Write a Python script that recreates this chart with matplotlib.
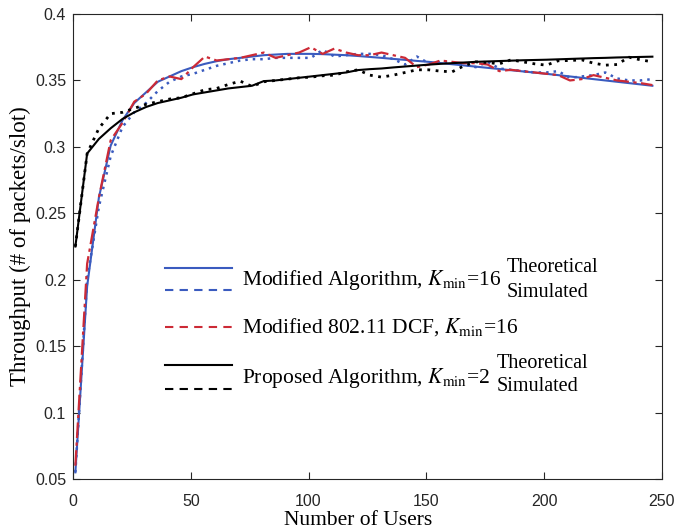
import matplotlib
matplotlib.use("Agg")
import matplotlib.pyplot as plt
from matplotlib.lines import Line2D
from matplotlib.ticker import FuncFormatter

users = [1, 6, 11, 16, 21, 26, 31, 36, 41, 46, 51, 56, 61, 66, 71, 76, 81, 86, 91, 96,
         101, 106, 111, 116, 121, 126, 131, 136, 141, 146, 151, 156, 161, 166, 171, 176,
         181, 186, 191, 196, 201, 206, 211, 216, 221, 226, 231, 236, 241, 246]

mod_theory = [0.055, 0.195, 0.262, 0.301, 0.320, 0.333, 0.341, 0.349, 0.353, 0.357,
              0.360, 0.3625, 0.3645, 0.366, 0.367, 0.368, 0.369, 0.3695, 0.370, 0.370,
              0.370, 0.3698, 0.3694, 0.369, 0.3684, 0.3677, 0.367, 0.3662, 0.3655, 0.3647,
              0.364, 0.3631, 0.3622, 0.3613, 0.3604, 0.3595, 0.3586, 0.3577, 0.3568, 0.3559,
              0.355, 0.354, 0.353, 0.352, 0.351, 0.350, 0.349, 0.348, 0.347, 0.346]

mod_sim = [0.055, 0.200, 0.255, 0.293, 0.315, 0.326, 0.333, 0.342, 0.349, 0.353,
           0.355, 0.358, 0.361, 0.363, 0.365, 0.366, 0.366, 0.367, 0.367, 0.367,
           0.367, 0.373, 0.368, 0.369, 0.370, 0.370, 0.369, 0.366, 0.362, 0.368,
           0.363, 0.364, 0.363, 0.362, 0.360, 0.364, 0.359, 0.358, 0.357, 0.356,
           0.356, 0.357, 0.352, 0.353, 0.354, 0.356, 0.3515, 0.350, 0.350, 0.351]

dcf_sim = [0.060, 0.212, 0.262, 0.305, 0.318, 0.334, 0.340, 0.350, 0.353, 0.351,
           0.360, 0.368, 0.365, 0.366, 0.367, 0.369, 0.371, 0.367, 0.369, 0.371,
           0.375, 0.370, 0.374, 0.371, 0.369, 0.369, 0.371, 0.369, 0.367, 0.360,
           0.362, 0.365, 0.364, 0.363, 0.363, 0.362, 0.357, 0.358, 0.357, 0.356,
           0.355, 0.354, 0.350, 0.351, 0.354, 0.352, 0.350, 0.349, 0.348, 0.3465]

prop_theory = [0.225, 0.295, 0.306, 0.314, 0.321, 0.326, 0.330, 0.333, 0.335, 0.337,
               0.3395, 0.341, 0.3425, 0.344, 0.345, 0.346, 0.3495, 0.350, 0.351, 0.352,
               0.353, 0.354, 0.355, 0.356, 0.3578, 0.3585, 0.359, 0.3598, 0.3605, 0.3612,
               0.3619, 0.3625, 0.363, 0.3635, 0.364, 0.3643, 0.3646, 0.3649, 0.3652, 0.3654,
               0.3656, 0.3659, 0.3662, 0.3665, 0.3668, 0.367, 0.3673, 0.3675, 0.3677, 0.3679]

prop_sim = [0.225, 0.295, 0.314, 0.325, 0.326, 0.329, 0.332, 0.334, 0.336, 0.337,
            0.340, 0.343, 0.344, 0.347, 0.3495, 0.3455, 0.349, 0.350, 0.351, 0.352,
            0.3525, 0.3535, 0.354, 0.3565, 0.358, 0.354, 0.3525, 0.354, 0.356, 0.358,
            0.358, 0.357, 0.3565, 0.361, 0.364, 0.3635, 0.3625, 0.3655, 0.364, 0.3625,
            0.3615, 0.3648, 0.365, 0.3655, 0.363, 0.3615, 0.362, 0.3675, 0.3655, 0.364]

BLUE = "#3a5bbf"
RED = "#cc2a36"
BLACK = "#000000"
DARK = "#262626"

plt.rcParams["mathtext.fontset"] = "stix"

fig = plt.figure(figsize=(6.76, 5.29), dpi=100)
ax = fig.add_axes([0.108, 0.0945, 0.871, 0.879])

ax.plot(users, mod_theory, color=BLUE, lw=1.5, ls="-")
ax.plot(users, mod_sim, color=BLUE, lw=1.8, ls=(0, (1, 2)))
ax.plot(users, dcf_sim, color=RED, lw=1.6, ls=(0, (7, 2, 1.5, 2)))
ax.plot(users, prop_theory, color=BLACK, lw=1.5, ls="-")
ax.plot(users, prop_sim, color=BLACK, lw=2.0, ls=(0, (1, 2)))

ax.set_xlim(0, 250)
ax.set_ylim(0.05, 0.4)
ax.set_xticks([0, 50, 100, 150, 200, 250])
ax.set_yticks([0.05, 0.1, 0.15, 0.2, 0.25, 0.3, 0.35, 0.4])
ax.yaxis.set_major_formatter(FuncFormatter(lambda v, p: "%g" % round(v, 3)))
ax.tick_params(direction="in", top=True, right=True, length=5, width=0.8,
               colors=DARK, labelsize=11.5)
ax.tick_params(axis="x", pad=10.5)
ax.tick_params(axis="y", pad=5)
for lab in ax.get_xticklabels() + ax.get_yticklabels():
    lab.set_fontfamily("Liberation Sans")
for s in ax.spines.values():
    s.set_color(DARK)
    s.set_linewidth(0.8)

ax.set_xlabel("Number of Users", fontfamily="Liberation Serif", fontsize=15.5)
ax.xaxis.set_label_coords(0.484, -0.068)
ax.set_ylabel("Throughput (# of packets/slot)", fontfamily="Liberation Serif", fontsize=16.5,
              labelpad=3)

# custom legend
tr = ax.transAxes
x0, x1 = 0.156, 0.270
leg_lines = [
    (0.454, BLUE, "-"), (0.406, BLUE, (0, (4, 3))),
    (0.327, RED, (0, (4, 3))),
    (0.245, BLACK, "-"), (0.194, BLACK, (0, (4, 3))),
]
for yy, c, ls in leg_lines:
    ax.add_line(Line2D([x0, x1], [yy, yy], transform=tr, color=c, lw=1.5, ls=ls))

tfont = dict(fontfamily="Liberation Serif", fontsize=15.5, color="black", va="center", transform=tr)
sfont = dict(tfont, fontsize=14.5)
ax.text(0.287, 0.428, r"Modified Algorithm, $K_{\rm min}$=16", **tfont)
ax.text(0.737, 0.455, "Theoretical", **sfont)
ax.text(0.737, 0.402, "Simulated", **sfont)
ax.text(0.287, 0.327, r"Modified 802.11 DCF, $K_{\rm min}$=16", **tfont)
ax.text(0.287, 0.217, r"Proposed Algorithm, $K_{\rm min}$=2", **tfont)
ax.text(0.720, 0.249, "Theoretical", **sfont)
ax.text(0.720, 0.198, "Simulated", **sfont)

fig.savefig("out.png", dpi=100)
